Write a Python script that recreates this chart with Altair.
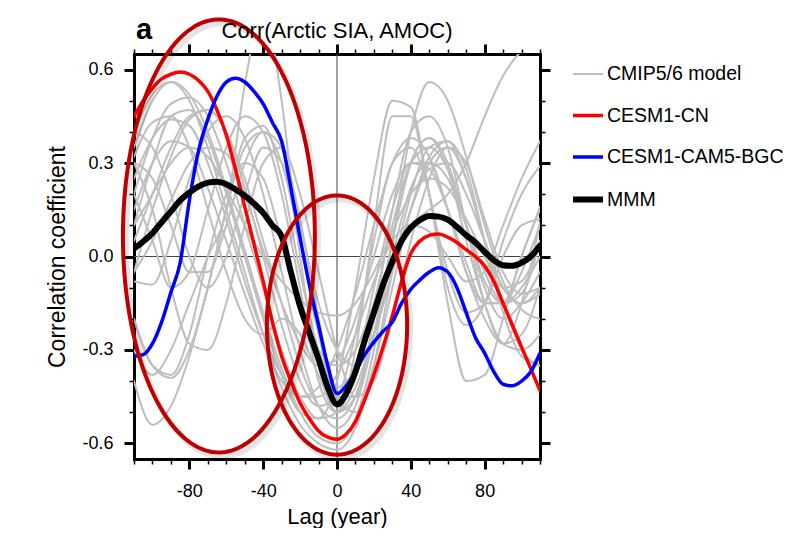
import altair as alt
import numpy as np
import pandas as pd

FONT = "Liberation Sans"

# ---------------- data ----------------
LAG5 = list(range(-110, 111, 5))
LAG10 = list(range(-110, 111, 10))

CN = [0.45, 0.50, 0.54, 0.57, 0.585, 0.592, 0.585, 0.565, 0.53, 0.47, 0.39, 0.28, 0.16, 0.04,
      -0.08, -0.21, -0.32, -0.40, -0.47, -0.52, -0.56, -0.58, -0.587, -0.57, -0.53, -0.46,
      -0.38, -0.29, -0.19, -0.08, 0.01, 0.05, 0.068, 0.072, 0.062, 0.045, 0.022, 0.0, -0.03,
      -0.08, -0.15, -0.22, -0.29, -0.36, -0.43]
BGC = [-0.32, -0.315, -0.28, -0.21, -0.115, -0.02, 0.18, 0.34, 0.44, 0.515, 0.56, 0.572,
       0.56, 0.53, 0.49, 0.43, 0.37, 0.22, 0.06, -0.09, -0.22, -0.35, -0.44, -0.415, -0.37,
       -0.315, -0.275, -0.24, -0.21, -0.15, -0.105, -0.075, -0.05, -0.036, -0.05, -0.1,
       -0.18, -0.26, -0.31, -0.37, -0.41, -0.415, -0.40, -0.37, -0.31]
MMM = [0.025, 0.048, 0.075, 0.11, 0.145, 0.18, 0.205, 0.225, 0.237, 0.24, 0.232, 0.215,
       0.195, 0.17, 0.14, 0.10, 0.065, -0.05, -0.16, -0.245, -0.33, -0.42, -0.475, -0.44,
       -0.37, -0.27, -0.18, -0.09, -0.016, 0.05, 0.093, 0.117, 0.13, 0.128, 0.118, 0.095,
       0.068, 0.045, 0.015, -0.012, -0.028, -0.03, -0.02, 0.0, 0.035]

GREY = {
    "m01": [0.35, 0.50, 0.56, 0.52, 0.40, 0.22, 0.02, -0.18, -0.36, -0.50, -0.58, -0.60, -0.52, -0.30, 0.05, 0.40, 0.56, 0.50, 0.32, 0.10, -0.08, -0.17, -0.20],
    "m02": [0.10, 0.30, 0.45, 0.47, 0.38, 0.20, 0.00, -0.20, -0.38, -0.50, -0.52, -0.40, -0.10, 0.25, 0.50, 0.48, 0.20, -0.15, -0.40, -0.38, -0.20, 0.00, 0.15],
    "m03": [0.20, 0.05, -0.10, -0.05, 0.15, 0.35, 0.45, 0.40, 0.20, -0.10, -0.40, -0.50, -0.30, 0.10, 0.45, 0.45, 0.20, -0.05, -0.18, -0.15, 0.00, 0.10, 0.12],
    "m04": [-0.20, -0.35, -0.38, -0.25, 0.00, 0.20, 0.30, 0.25, 0.05, -0.15, -0.30, -0.35, -0.30, -0.15, 0.00, 0.10, 0.15, 0.20, 0.30, 0.45, 0.58, 0.66, 0.70],
    "m05": [-0.30, -0.38, -0.30, -0.15, 0.00, 0.15, 0.55, 0.80, 0.50, 0.00, -0.35, -0.50, -0.42, -0.25, -0.05, 0.15, 0.30, 0.35, 0.25, 0.05, -0.10, -0.15, -0.10],
    "m06": [-0.40, -0.54, -0.48, -0.32, -0.10, 0.15, 0.38, 0.42, 0.25, -0.05, -0.30, -0.42, -0.35, -0.10, 0.15, 0.30, 0.30, 0.15, -0.05, -0.15, -0.15, -0.05, 0.10],
    "m07": [-0.20, -0.35, -0.39, -0.30, -0.10, 0.15, 0.35, 0.40, 0.30, 0.05, -0.25, -0.45, -0.45, -0.25, 0.05, 0.30, 0.38, 0.30, 0.10, -0.10, -0.20, -0.15, -0.05],
    "m08": [0.30, 0.15, -0.10, -0.28, -0.30, -0.15, 0.10, 0.30, 0.35, 0.20, -0.05, -0.30, -0.45, -0.40, -0.20, 0.05, 0.25, 0.35, 0.30, 0.12, -0.05, -0.12, -0.10],
    "m09": [-0.08, -0.09, 0.05, 0.25, 0.40, 0.45, 0.38, 0.20, -0.05, -0.30, -0.48, -0.55, -0.48, -0.25, 0.05, 0.30, 0.38, 0.28, 0.05, -0.15, -0.28, -0.30, -0.25],
    "m10": [0.40, 0.35, 0.20, 0.00, -0.10, 0.00, 0.20, 0.35, 0.30, 0.10, -0.15, -0.30, -0.35, -0.25, -0.05, 0.15, 0.28, 0.30, 0.20, 0.05, -0.10, -0.15, -0.12],
    "m11": [0.10, 0.20, 0.30, 0.35, 0.32, 0.22, 0.10, 0.00, -0.08, -0.14, -0.18, -0.19, -0.15, -0.05, 0.08, 0.20, 0.25, 0.22, 0.12, 0.00, -0.10, -0.08, 0.05],
    "m12": [0.40, 0.52, 0.56, 0.50, 0.35, 0.15, -0.05, -0.25, -0.42, -0.54, -0.60, -0.62, -0.55, -0.35, -0.05, 0.20, 0.35, 0.37, 0.25, 0.05, -0.15, -0.30, -0.35],
    "m13": [0.20, 0.38, 0.49, 0.51, 0.45, 0.30, 0.10, -0.10, -0.30, -0.45, -0.52, -0.50, -0.38, -0.15, 0.10, 0.30, 0.35, 0.28, 0.10, -0.08, -0.15, -0.10, 0.00],
    "m14": [-0.05, 0.15, 0.32, 0.44, 0.47, 0.40, 0.25, 0.05, -0.15, -0.35, -0.48, -0.52, -0.45, -0.25, 0.00, 0.22, 0.30, 0.25, 0.10, -0.05, -0.15, -0.12, 0.05],
    "m15": [0.25, 0.38, 0.44, 0.42, 0.30, 0.12, -0.08, -0.25, -0.38, -0.45, -0.45, -0.38, -0.25, -0.08, 0.05, 0.10, 0.08, 0.00, -0.08, -0.05, 0.10, 0.25, 0.37],
    "m16": [0.15, 0.30, 0.37, 0.35, 0.22, 0.05, -0.12, -0.28, -0.40, -0.45, -0.42, -0.30, -0.12, 0.10, 0.30, 0.38, 0.32, 0.15, -0.05, -0.20, -0.28, -0.25, -0.10],
    "m17": [0.05, 0.20, 0.35, 0.45, 0.47, 0.40, 0.22, 0.00, -0.22, -0.40, -0.48, -0.45, -0.25, 0.05, 0.30, 0.35, 0.20, -0.10, -0.22, -0.15, 0.05, 0.20, 0.29],
    "m18": [0.30, 0.25, 0.10, -0.05, -0.05, 0.10, 0.30, 0.40, 0.35, 0.12, -0.20, -0.45, -0.50, -0.35, -0.10, 0.15, 0.32, 0.37, 0.28, 0.05, -0.18, -0.32, -0.35],
    "m19": [-0.05, 0.05, 0.18, 0.30, 0.35, 0.33, 0.20, 0.02, -0.15, -0.28, -0.35, -0.33, -0.20, 0.00, 0.20, 0.30, 0.28, 0.15, -0.02, -0.15, -0.15, 0.00, 0.16],
    "m20": [0.32, 0.43, 0.45, 0.35, 0.15, -0.05, -0.20, -0.25, -0.20, -0.25, -0.38, -0.50, -0.45, -0.20, 0.15, 0.40, 0.45, 0.35, 0.10, -0.15, -0.28, -0.15, 0.11],
}

SERIES = ["CMIP5/6 model", "CESM1-CN", "CESM1-CAM5-BGC", "MMM"]
COLORS = ["#bebebe", "#ff0000", "#0000ff", "#000000"]
WIDTHS = [2, 3.5, 3.5, 6]

# annotation ellipses (centre lag, centre r, half-width lag, half-height r)
ELL_CX = [-64.0, 0.0]
ELL_CY = [0.066, -0.22]
ELL_RX = [52.0, 38.0]
ELL_RY = [0.695, 0.416]

TITLE = "Corr(Arctic SIA, AMOC)"
PANEL = "a"

# ---------------- tables ----------------
rows = []
for name, vals in GREY.items():
    for l, v in zip(LAG10, vals):
        rows.append({"lag": l, "r": v, "series": SERIES[0], "model": name})
for s, vals in zip(SERIES[1:], [CN, BGC, MMM]):
    for l, v in zip(LAG5, vals):
        rows.append({"lag": l, "r": v, "series": s, "model": s})
df = pd.DataFrame(rows)

t = np.linspace(0, 2 * np.pi, 181)
erows = []
for i in range(len(ELL_CX)):
    for k, tt in enumerate(t):
        erows.append({"lag": ELL_CX[i] + ELL_RX[i] * np.cos(tt),
                      "r": ELL_CY[i] + ELL_RY[i] * np.sin(tt),
                      "e": i, "k": k})
edf = pd.DataFrame(erows)

# ---------------- scales / axes ----------------
xscale = alt.Scale(domain=[-110, 110], nice=False, zero=False)
yscale = alt.Scale(domain=[-0.65, 0.65], nice=False, zero=False)
xvals = list(range(-110, 111, 10))
yvals = [round(v / 10, 1) for v in range(-6, 7)]
MX = "datum.value % 40 == 0"
MY = "round(datum.value * 10) % 3 == 0"


def ticks(test):
    return dict(
        tickSize={"condition": {"test": test, "value": 10}, "value": 5},
        tickWidth={"condition": {"test": test, "value": 3}, "value": 1.5},
        tickColor="black", domainColor="black", domainWidth=3, grid=False,
        domainCap="square",
    )


x_bottom = alt.Axis(orient="bottom", values=xvals,
                    labelExpr=f"{MX} ? ((datum.value < 0 ? '-' : '') + abs(datum.value)) : ''",
                    labelFont=FONT, labelFontSize=18, labelColor="black", labelPadding=13,
                    labelFlush=False, labelOverlap=False,
                    title="Lag (year)", titleFont=FONT, titleFontSize=22,
                    titleFontWeight="normal", titleColor="black", titlePadding=6, **ticks(MX))
y_left = alt.Axis(orient="left", values=yvals,
                  labelExpr=f"{MY} ? ((datum.value < -0.001 ? '-' : '') + format(abs(datum.value), '.1f')) : ''",
                  labelFont=FONT, labelFontSize=18, labelColor="black", labelPadding=11,
                  labelFlush=False, labelOverlap=False,
                  title="Correlation coefficient", titleFont=FONT, titleFontSize=23,
                  titleFontWeight="normal", titleColor="black", titlePadding=12, **ticks(MY))
x_top = alt.Axis(orient="top", values=xvals, labels=False, title=None, **ticks(MX))
y_right = alt.Axis(orient="right", values=yvals, labels=False, title=None, **ticks(MY))

legend = alt.Legend(orient="none", legendX=436, legendY=4, title=None, symbolType="stroke",
                    symbolSize=900, labelFont=FONT, labelFontSize=19.5, labelColor="black",
                    labelOffset=1, rowPadding=14.5, padding=0, labelLimit=400)
color = alt.Color("series:N", scale=alt.Scale(domain=SERIES, range=COLORS), legend=legend)
swidth = alt.StrokeWidth("series:N", scale=alt.Scale(type="ordinal", domain=SERIES, range=WIDTHS),
                         legend=legend)

zero = pd.DataFrame({"v": [0]})
vline = alt.Chart(zero).mark_rule(color="#444444", strokeWidth=1).encode(
    x=alt.X("v:Q", scale=xscale, axis=x_bottom))
hline = alt.Chart(zero).mark_rule(color="#444444", strokeWidth=1).encode(
    y=alt.Y("v:Q", scale=yscale, axis=y_left))

base = alt.Chart(df)
grey = base.transform_filter(alt.datum.series == SERIES[0]).mark_line(
    interpolate="monotone", clip=True, strokeCap="round").encode(
    x=alt.X("lag:Q", scale=xscale, axis=x_top),
    y=alt.Y("r:Q", scale=yscale, axis=y_right),
    color=color, strokeWidth=swidth, detail="model:N", order="lag:Q")


def colored(name):
    return base.transform_filter(alt.datum.series == name).mark_line(
        interpolate="monotone", clip=True, strokeCap="round").encode(
        x=alt.X("lag:Q", scale=xscale, axis=None),
        y=alt.Y("r:Q", scale=yscale, axis=None),
        color=color, strokeWidth=swidth, order="lag:Q")


red = colored(SERIES[1])
blue = colored(SERIES[2])
black = colored(SERIES[3])

ell_shadow = alt.Chart(edf).mark_line(clip=False, color="#000000", opacity=0.10,
                                      strokeWidth=6, xOffset=3, yOffset=4).encode(
    x=alt.X("lag:Q", scale=xscale, axis=None),
    y=alt.Y("r:Q", scale=yscale, axis=None),
    detail="e:N", order="k:Q")
ell = alt.Chart(edf).mark_line(clip=False, color="#c00000", strokeWidth=4).encode(
    x=alt.X("lag:Q", scale=xscale, axis=None),
    y=alt.Y("r:Q", scale=yscale, axis=None),
    detail="e:N", order="k:Q")

title_txt = alt.Chart(pd.DataFrame({"t": [TITLE]})).mark_text(
    font=FONT, fontSize=22, align="center", baseline="middle", color="black").encode(
    x=alt.value(203), y=alt.value(-23), text="t:N")
panel_txt = alt.Chart(pd.DataFrame({"t": [PANEL]})).mark_text(
    font=FONT, fontSize=29, fontWeight="bold", align="left", baseline="middle",
    color="black").encode(x=alt.value(2), y=alt.value(-24), text="t:N")

chart = alt.layer(vline, hline, grey, red, blue, black, ell_shadow, ell, title_txt, panel_txt
                  ).resolve_axis(x="independent", y="independent").properties(
    width=406, height=405,
    padding={"left": 126, "top": 46, "right": 244, "bottom": 69},
    autosize=alt.AutoSizeParams(type="none"),
).configure_view(stroke=None)

chart.save("out.html", embed_options={"renderer": "svg", "actions": False})
